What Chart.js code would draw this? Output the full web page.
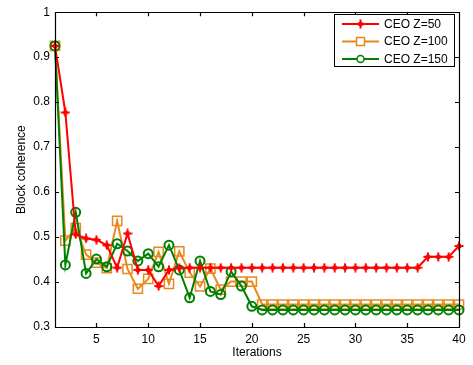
<!DOCTYPE html>
<html>
<head>
<meta charset="utf-8">
<script src="https://cdn.jsdelivr.net/npm/chart.js@4.4.1/dist/chart.umd.min.js"></script>
<style>
  html, body { margin: 0; padding: 0; background: #fff; }
  #wrap { width: 473px; height: 365px; position: relative; }
</style>
</head>
<body>
<div id="wrap"><canvas id="chart"></canvas></div>
<script>
// values
var iterations = [1, 2, 3, 4, 5, 6, 7, 8, 9, 10, 11, 12, 13, 14, 15, 16, 17, 18, 19, 20,
                  21, 22, 23, 24, 25, 26, 27, 28, 29, 30, 31, 32, 33, 34, 35, 36, 37, 38, 39, 40];
var ceoZ50 = [0.925, 0.777, 0.506, 0.497, 0.494, 0.482, 0.432, 0.508, 0.427, 0.427,
              0.391, 0.427, 0.431, 0.432, 0.432, 0.432, 0.432, 0.432, 0.432, 0.432,
              0.432, 0.432, 0.432, 0.432, 0.432, 0.432, 0.432, 0.432, 0.432, 0.432,
              0.432, 0.432, 0.432, 0.432, 0.432, 0.432, 0.456, 0.456, 0.456, 0.480];
var ceoZ100 = [0.925, 0.492, 0.520, 0.461, 0.443, 0.431, 0.536, 0.429, 0.385, 0.407,
               0.467, 0.396, 0.468, 0.421, 0.390, 0.430, 0.383, 0.401, 0.401, 0.401,
               0.350, 0.350, 0.350, 0.350, 0.350, 0.350, 0.350, 0.350, 0.350, 0.350,
               0.350, 0.350, 0.350, 0.350, 0.350, 0.350, 0.350, 0.350, 0.350, 0.350];
var ceoZ150 = [0.925, 0.438, 0.555, 0.419, 0.451, 0.434, 0.485, 0.469, 0.447, 0.463,
               0.434, 0.482, 0.427, 0.365, 0.447, 0.379, 0.372, 0.423, 0.391, 0.346,
               0.338, 0.338, 0.338, 0.338, 0.338, 0.338, 0.338, 0.338, 0.338, 0.338,
               0.338, 0.338, 0.338, 0.338, 0.338, 0.338, 0.338, 0.338, 0.338, 0.338];
var seriesNames = ['CEO Z=50', 'CEO Z=100', 'CEO Z=150'];
var xTicks = [5, 10, 15, 20, 25, 30, 35, 40];
var yTicks = [0.3, 0.4, 0.5, 0.6, 0.7, 0.8, 0.9, 1];

var RED = '#ff0000', ORANGE = '#e8891c', GREEN = '#008000';
var FONT = 'Liberation Sans, Arial, Helvetica, sans-serif';

// red marker: plus sign with a filled centre
function makeStar() {
  var c = document.createElement('canvas');
  c.width = 10; c.height = 10;
  var g = c.getContext('2d');
  g.strokeStyle = RED; g.fillStyle = RED; g.lineWidth = 2;
  g.beginPath(); g.moveTo(5, 0.5); g.lineTo(5, 9.5); g.moveTo(0.5, 5); g.lineTo(9.5, 5); g.stroke();
  g.beginPath(); g.arc(5, 5, 2.5, 0, Math.PI * 2); g.fill();
  return c;
}
var star = makeStar();

function toPoints(ys) {
  return ys.map(function(v, i) { return { x: iterations[i], y: v }; });
}

// matlab-like box with inward ticks and the in-plot legend
var matlabBox = {
  id: 'matlabBox',
  afterDraw: function(chart) {
    var ctx = chart.ctx, a = chart.chartArea;
    var xs = chart.scales.x, ys = chart.scales.y;
    var tl = 4;
    ctx.save();
    ctx.strokeStyle = '#000';
    ctx.lineWidth = 1.2;
    ctx.beginPath();
    ctx.rect(Math.round(a.left) + 0.5, Math.round(a.top) + 0.5,
             Math.round(a.right - a.left), Math.round(a.bottom - a.top));
    xTicks.forEach(function(v) {
      var px = Math.round(xs.getPixelForValue(v)) + 0.5;
      ctx.moveTo(px, a.bottom); ctx.lineTo(px, a.bottom - tl);
      ctx.moveTo(px, a.top); ctx.lineTo(px, a.top + tl);
    });
    yTicks.forEach(function(v) {
      var py = Math.round(ys.getPixelForValue(v)) + 0.5;
      ctx.moveTo(a.left, py); ctx.lineTo(a.left + tl, py);
      ctx.moveTo(a.right, py); ctx.lineTo(a.right - tl, py);
    });
    ctx.stroke();

    // legend
    var bx = 334.5, by = 14.5, bw = 120, bh = 52;
    ctx.fillStyle = '#fff';
    ctx.fillRect(bx, by, bw, bh);
    ctx.lineWidth = 1;
    ctx.strokeRect(bx, by, bw, bh);
    ctx.font = '12px ' + FONT;
    ctx.textBaseline = 'middle';
    chart.data.datasets.forEach(function(ds, i) {
      var y = 24 + i * 17.5;
      ctx.strokeStyle = ds.borderColor;
      ctx.lineWidth = 2;
      ctx.beginPath(); ctx.moveTo(342, y); ctx.lineTo(379, y); ctx.stroke();
      var mx = 360.5;
      if (i === 0) {
        ctx.drawImage(star, mx - 5, y - 5);
      } else if (i === 1) {
        ctx.fillStyle = '#fff';
        ctx.fillRect(mx - 4, y - 4, 8, 8);
        ctx.lineWidth = 1.5;
        ctx.strokeRect(mx - 4, y - 4, 8, 8);
      } else {
        ctx.fillStyle = '#fff';
        ctx.lineWidth = 1.5;
        ctx.beginPath(); ctx.arc(mx, y, 3.5, 0, Math.PI * 2); ctx.fill(); ctx.stroke();
      }
      ctx.fillStyle = '#000';
      ctx.fillText(ds.label, 384, y + 0.5);
    });
    ctx.restore();
  }
};

new Chart(document.getElementById('chart'), {
  type: 'line',
  data: {
    datasets: [
      {
        label: seriesNames[0], data: toPoints(ceoZ50), order: 0,
        borderColor: RED, backgroundColor: RED, borderWidth: 2,
        pointStyle: star, pointRadius: 5, clip: false
      },
      {
        label: seriesNames[1], data: toPoints(ceoZ100), order: 2,
        borderColor: ORANGE, backgroundColor: 'rgba(0,0,0,0)', borderWidth: 2,
        pointStyle: 'rect', pointRadius: 6.5, pointBorderWidth: 1.5, clip: false
      },
      {
        label: seriesNames[2], data: toPoints(ceoZ150), order: 1,
        borderColor: GREEN, backgroundColor: 'rgba(0,0,0,0)', borderWidth: 2,
        pointStyle: 'circle', pointRadius: 4.5, pointBorderWidth: 2, clip: false
      }
    ]
  },
  options: {
    responsive: true,
    maintainAspectRatio: false,
    animation: false,
    layout: { padding: { left: 0, top: 8, right: 14, bottom: 0 } },
    plugins: { legend: { display: false }, tooltip: { enabled: false } },
    elements: { line: { tension: 0 } },
    scales: {
      x: {
        type: 'linear', min: 1, max: 40,
        grid: { display: false, drawTicks: false },
        border: { display: false },
        afterBuildTicks: function(s) { s.ticks = xTicks.map(function(v) { return { value: v }; }); },
        afterFit: function(s) { s.height = 38; },
        ticks: { color: '#000', font: { family: FONT, size: 12 }, padding: 5, maxRotation: 0, autoSkip: false },
        title: { display: true, text: 'Iterations', color: '#000', font: { family: FONT, size: 12 }, padding: { top: 0, bottom: 5 } }
      },
      y: {
        min: 0.3, max: 1,
        grid: { display: false, drawTicks: false },
        border: { display: false },
        afterBuildTicks: function(s) { s.ticks = yTicks.map(function(v) { return { value: v }; }); },
        afterFit: function(s) { s.width = 55; },
        ticks: { color: '#000', font: { family: FONT, size: 12 }, padding: 5,
                 callback: function(v) { return String(Math.round(v * 10) / 10); } },
        title: { display: true, text: 'Block coherence', color: '#000', font: { family: FONT, size: 12 }, padding: { top: 14, bottom: 0 } }
      }
    }
  },
  plugins: [matlabBox]
});
</script>
</body>
</html>
